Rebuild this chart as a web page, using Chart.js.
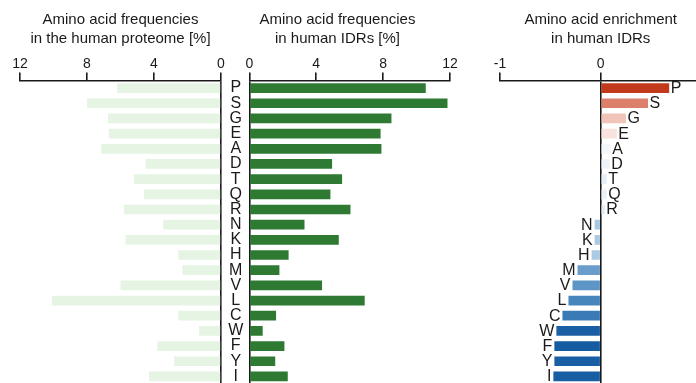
<!DOCTYPE html>
<html>
<head>
<meta charset="utf-8">
<script src="https://cdn.jsdelivr.net/npm/chart.js@4.4.0/dist/chart.umd.min.js"></script>
<style>
  html, body { margin: 0; padding: 0; background: #fff; overflow: hidden; }
  body { width: 696px; height: 383px; position: relative; }
  .box { position: absolute; top: 0; height: 384px; }
</style>
</head>
<body>
<div class="box" style="left:0; width:226px"><canvas id="proteomeChart"></canvas></div>
<div class="box" style="left:225px; width:233px"><canvas id="idrChart"></canvas></div>
<div class="box" style="left:480px; width:240px"><canvas id="enrichChart"></canvas></div>
<script>
// amino acids, ordered by enrichment
const aminoAcids = ["P", "S", "G", "E", "A", "D", "T", "Q", "R", "N", "K", "H", "M", "V", "L", "C", "W", "F", "Y", "I"];

// frequency in the whole human proteome [%]
const proteomeFreq = [6.2, 8.0, 6.75, 6.7, 7.15, 4.5, 5.2, 4.6, 5.8, 3.45, 5.7, 2.55, 2.3, 6.0, 10.1, 2.55, 1.3, 3.8, 2.8, 4.3];

// frequency in human IDRs [%]
const idrFreq = [10.55, 11.85, 8.5, 7.85, 7.9, 4.95, 5.55, 4.85, 6.05, 3.3, 5.35, 2.35, 1.8, 4.35, 6.9, 1.6, 0.8, 2.1, 1.55, 2.3];

// enrichment in IDRs
const enrichment = [0.68, 0.47, 0.25, 0.16, 0.1, 0.09, 0.06, 0.06, 0.04, -0.06, -0.06, -0.09, -0.23, -0.28, -0.32, -0.38, -0.44, -0.46, -0.46, -0.47];

const freqTicks = [0, 4, 8, 12];
const enrichTicks = [-1, 0, 1];

// colour per bar on the enrichment panel
const enrichColors = ["#c2391b", "#dc7f6b", "#f0c4b9", "#f8e4dc", "#f3f6fa", "#edf3f9", "#e6eff7", "#e9f1f8", "#e2edf6",
  "#a8c9e2", "#a9cae2", "#aacbe3", "#6a9dcb", "#5d95c6", "#4785bd", "#3a7bb6", "#195fa3", "#155ca1", "#1a5fa3", "#185ea2"];

const ink = "#1a1a1a";
Chart.defaults.font.family = "'Liberation Sans', Arial, sans-serif";
Chart.defaults.color = ink;
Chart.defaults.animation = false;

const titleFont = { size: 15, weight: "normal", lineHeight: 1.3 };
const letterFont = "16px 'Liberation Sans', Arial, sans-serif";

function topAxis(min, max, ticks, reverse) {
  return {
    type: "linear",
    position: "top",
    min: min,
    max: max,
    reverse: reverse,
    afterBuildTicks: scale => { scale.ticks = ticks.map(v => ({ value: v })); },
    ticks: { font: { size: 14 }, padding: 0, color: ink },
    border: { display: true, color: ink, width: 1.6 },
    grid: {
      drawOnChartArea: true,
      tickLength: 8,
      tickColor: ink,
      tickWidth: 1.6,
      lineWidth: 1.6,
      color: ctx => (ctx.tick && ctx.tick.value === 0 ? ink : "transparent")
    }
  };
}

function baseOptions(title, xScale, yScale, padding) {
  return {
    indexAxis: "y",
    responsive: true,
    maintainAspectRatio: false,
    layout: { padding: padding },
    plugins: {
      legend: { display: false },
      tooltip: { enabled: false },
      title: {
        display: true,
        text: title,
        color: ink,
        font: titleFont,
        padding: { top: 10, bottom: 6.7 }
      }
    },
    scales: { x: xScale, y: yScale }
  };
}

const hiddenY = { display: false, grid: { display: false } };

// left: whole proteome, reversed axis
new Chart(document.getElementById("proteomeChart"), {
  type: "bar",
  data: {
    labels: aminoAcids,
    datasets: [{
      data: proteomeFreq,
      backgroundColor: "#e6f4e4",
      barPercentage: 0.64,
      categoryPercentage: 1
    }]
  },
  options: baseOptions(["Amino acid frequencies", "in the human proteome [%]"],
    topAxis(0, 12, freqTicks, true), hiddenY, { left: 20, right: 5, top: 0, bottom: 0 })
});

// middle: IDRs, amino acid letters on its left
new Chart(document.getElementById("idrChart"), {
  type: "bar",
  data: {
    labels: aminoAcids,
    datasets: [{
      data: idrFreq,
      backgroundColor: "#2e7a32",
      barPercentage: 0.64,
      categoryPercentage: 1
    }]
  },
  options: baseOptions(["Amino acid frequencies", "in human IDRs [%]"],
    topAxis(0, 12, freqTicks, false),
    {
      position: "left",
      afterFit: scale => {
        scale.width = 24.3;
        // keep the rows aligned with the other two panels
        scale.paddingTop = 0;
        scale.paddingBottom = 0;
      },
      ticks: { font: { size: 16 }, padding: 6, crossAlign: "center", autoSkip: false, color: ink },
      grid: { display: false, drawTicks: false },
      border: { display: false }
    },
    { left: 0, right: 8, top: 0, bottom: 0 })
});

// letters at the bar ends of the enrichment panel
const endLabels = {
  id: "endLabels",
  afterDatasetsDraw(chart) {
    const ctx = chart.ctx;
    const meta = chart.getDatasetMeta(0);
    ctx.save();
    ctx.font = letterFont;
    ctx.fillStyle = ink;
    ctx.textBaseline = "middle";
    meta.data.forEach((bar, i) => {
      const v = enrichment[i];
      if (v >= 0) {
        ctx.textAlign = "left";
        ctx.fillText(aminoAcids[i], bar.x + 1.5, bar.y + 0.5);
      } else {
        ctx.textAlign = "right";
        ctx.fillText(aminoAcids[i], bar.x - 2, bar.y + 0.5);
      }
    });
    ctx.restore();
  }
};

new Chart(document.getElementById("enrichChart"), {
  type: "bar",
  data: {
    labels: aminoAcids,
    datasets: [{
      data: enrichment,
      backgroundColor: enrichColors,
      barPercentage: 0.64,
      categoryPercentage: 1
    }]
  },
  options: baseOptions(["Amino acid enrichment", "in human IDRs"],
    topAxis(-1, 1, enrichTicks, false), hiddenY, { left: 20, right: 18.6, top: 0, bottom: 0 }),
  plugins: [endLabels]
});
</script>
</body>
</html>
